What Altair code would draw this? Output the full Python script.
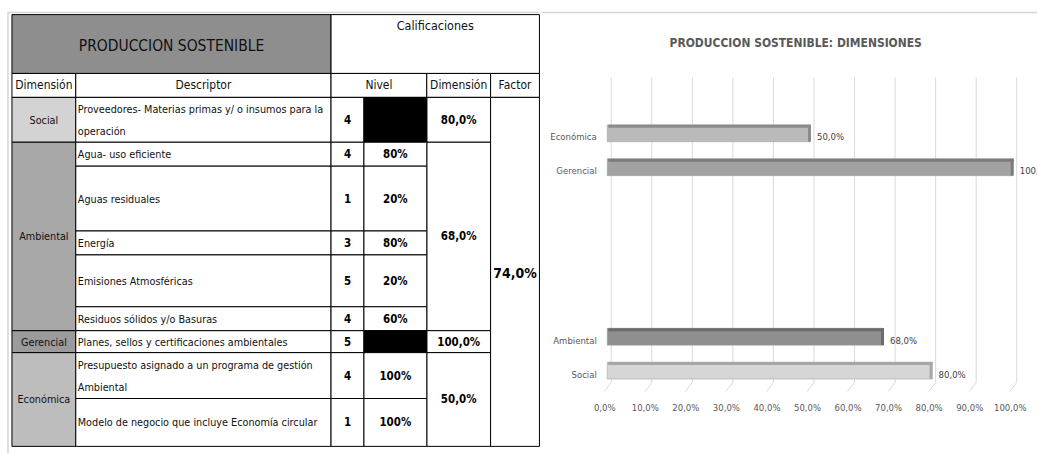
import altair as alt
import pandas as pd

# ---------------- content ----------------
titulo_tabla = "PRODUCCION SOSTENIBLE"
titulo_grafico = "PRODUCCION SOSTENIBLE: DIMENSIONES"
encabezados = ["Dimensión", "Descriptor", "Nivel", "Dimensión", "Factor"]

dimensiones = ["Social", "Ambiental", "Gerencial", "Económica"]
descriptores_por_dim = [1, 5, 1, 2]
descriptores = [
    "Proveedores- Materias primas y/ o insumos para la\noperación",
    "Agua- uso eficiente",
    "Aguas residuales",
    "Energía",
    "Emisiones Atmosféricas",
    "Residuos sólidos y/o Basuras",
    "Planes, sellos y certificaciones ambientales",
    "Presupuesto asignado a un programa de gestión\nAmbiental",
    "Modelo de negocio que incluye Economía circular",
]
nivel = [4, 4, 1, 3, 5, 4, 5, 4, 1]
nivel_pct = [None, 80, 20, 80, 20, 60, None, 100, 100]
calif_dimension = [0.80, 0.68, 1.00, 0.50]
calif_factor = 0.74

# bar order, top to bottom
orden_barras = ["Económica", "Gerencial", "Ambiental", "Social"]
eje_x_ticks = [0.0, 0.1, 0.2, 0.3, 0.4, 0.5, 0.6, 0.7, 0.8, 0.9, 1.0]

# ---------------- styling / layout ----------------
FONT = "DejaVu Sans Condensed, Liberation Sans, sans-serif"
COLS = [12, 76, 332, 365, 428, 492, 541]
HEAD = [14, 73, 97]
ROW_H = [45, 24, 65, 24, 52, 24, 22, 46, 48]
LINE_H = 22
FILL_DIM = {"Social": "#d3d3d3", "Ambiental": "#a8a8a8",
            "Gerencial": "#9b9b9b", "Económica": "#bdbdbd"}
BAR_FILL = {"Económica": "#bababa", "Gerencial": "#a2a2a2",
            "Ambiental": "#8f8f8f", "Social": "#d6d6d6"}
BAR_EDGE = {"Económica": "#8c8c8c", "Gerencial": "#7c7c7c",
            "Ambiental": "#6c6c6c", "Social": "#a6a6a6"}
TABLE_W, TABLE_H = 541, 454
PLOT_W, PLOT_H = 427, 395


def pct_es(v, dec=1):
    return f"{v * 100:.{dec}f}%".replace(".", ",")


# ---------------- table geometry ----------------
row_top = [HEAD[2]]
for h in ROW_H:
    row_top.append(row_top[-1] + h)

span_start, span_end = [], []
acc = 0
for n in descriptores_por_dim:
    span_start.append(acc)
    acc += n
    span_end.append(acc)

cells = []
cells.append(dict(x=COLS[0], x2=COLS[2], y=HEAD[0], y2=HEAD[1], fill="#8e8e8e"))
cells.append(dict(x=COLS[2], x2=COLS[6], y=HEAD[0], y2=HEAD[1], fill="#ffffff"))
head_spans = [(0, 1), (1, 2), (2, 4), (4, 5), (5, 6)]
for a, b in head_spans:
    cells.append(dict(x=COLS[a], x2=COLS[b], y=HEAD[1], y2=HEAD[2], fill="#ffffff"))
for d, s, e in zip(dimensiones, span_start, span_end):
    cells.append(dict(x=COLS[0], x2=COLS[1], y=row_top[s], y2=row_top[e], fill=FILL_DIM[d]))
    cells.append(dict(x=COLS[4], x2=COLS[5], y=row_top[s], y2=row_top[e], fill="#ffffff"))
for i in range(len(descriptores)):
    cells.append(dict(x=COLS[1], x2=COLS[2], y=row_top[i], y2=row_top[i + 1], fill="#ffffff"))
    cells.append(dict(x=COLS[2], x2=COLS[3], y=row_top[i], y2=row_top[i + 1], fill="#ffffff"))
    cells.append(dict(x=COLS[3], x2=COLS[4], y=row_top[i], y2=row_top[i + 1],
                      fill="#000000" if nivel_pct[i] is None else "#ffffff"))
cells.append(dict(x=COLS[5], x2=COLS[6], y=row_top[0], y2=row_top[-1], fill="#ffffff"))
cells_df = pd.DataFrame(cells)


def mid(a, b):
    return (a + b) / 2


txt_reg = []   # centered, regular weight
txt_bold = []  # centered, bold
txt_left = []  # left aligned descriptors

txt_reg.append(dict(x=mid(COLS[0], COLS[2]), y=HEAD[0] + 31, t=titulo_tabla, s=15.5))
txt_reg.append(dict(x=mid(COLS[2], COLS[6]), y=HEAD[0] + 11, t="Calificaciones", s=12.5))
for (a, b), h in zip(head_spans, encabezados):
    txt_reg.append(dict(x=mid(COLS[a], COLS[b]), y=mid(HEAD[1], HEAD[2]), t=h, s=12))
for d, s, e, v in zip(dimensiones, span_start, span_end, calif_dimension):
    txt_reg.append(dict(x=mid(COLS[0], COLS[1]), y=mid(row_top[s], row_top[e]) + 1, t=d, s=10.8))
    txt_bold.append(dict(x=mid(COLS[4], COLS[5]), y=mid(row_top[s], row_top[e]) + 1,
                         t=pct_es(v), s=11.5))
for i, desc in enumerate(descriptores):
    yc = mid(row_top[i], row_top[i + 1]) + 1
    n_lin = desc.count("\n") + 1
    txt_left.append(dict(x=COLS[1] + 2, y=yc - (n_lin - 1) * LINE_H / 2, t=desc, s=10.8))
    txt_bold.append(dict(x=mid(COLS[2], COLS[3]), y=yc, t=str(nivel[i]), s=11.5))
    if nivel_pct[i] is not None:
        txt_bold.append(dict(x=mid(COLS[3], COLS[4]), y=yc, t=f"{nivel_pct[i]}%", s=11.5))
txt_bold.append(dict(x=mid(COLS[5], COLS[6]), y=mid(row_top[0], row_top[-1]) + 2,
                     t=pct_es(calif_factor), s=14))

px = dict(scale=None)
X = lambda f: alt.X(f, **px)
Y = lambda f: alt.Y(f, **px)

frame = alt.Chart(pd.DataFrame({"x": [8], "x2": [TABLE_W], "y": [12], "y2": [TABLE_H]}))
frame_top = frame.mark_rule(color="#d4d4d4", strokeWidth=1.5).encode(
    x=X("x:Q"), x2="x2:Q", y=Y("y:Q"))
frame_left = frame.mark_rule(color="#d4d4d4", strokeWidth=1.5).encode(
    x=X("x:Q"), y=Y("y:Q"), y2="y2:Q")

table_cells = alt.Chart(cells_df).mark_rect(stroke="#000000", strokeWidth=1).encode(
    x=X("x:Q"), x2="x2:Q", y=Y("y:Q"), y2="y2:Q",
    fill=alt.Fill("fill:N", scale=None))

text_enc = dict(x=X("x:Q"), y=Y("y:Q"), text="t:N", size=alt.Size("s:Q", scale=None))
t_reg = alt.Chart(pd.DataFrame(txt_reg)).mark_text(
    font=FONT, color="#111111", baseline="middle", align="center").encode(**text_enc)
t_bold = alt.Chart(pd.DataFrame(txt_bold)).mark_text(
    font=FONT, color="#000000", fontWeight="bold", baseline="middle", align="center").encode(**text_enc)
t_left = alt.Chart(pd.DataFrame(txt_left)).mark_text(
    font=FONT, color="#111111", baseline="middle", align="left",
    lineBreak="\n", lineHeight=LINE_H).encode(**text_enc)

tabla = alt.layer(frame_top, frame_left, table_cells, t_reg, t_bold, t_left).properties(
    width=TABLE_W, height=TABLE_H)

# ---------------- bar chart ----------------
valor = dict(zip(dimensiones, calif_dimension))
bar_df = pd.DataFrame({
    "dim": orden_barras,
    "v": [valor[d] for d in orden_barras],
    "fill": [BAR_FILL[d] for d in orden_barras],
    "edge": [BAR_EDGE[d] for d in orden_barras],
})
huecos = [" ", "  ", "   ", "    "]
y_domain = orden_barras[:2] + huecos + orden_barras[2:]
y_scale = alt.Scale(domain=y_domain, range=[116, 388], paddingInner=0.5, paddingOuter=0.25)
x_scale = alt.Scale(domain=[0, 1.05], nice=False, zero=True)
fmt = "replace(format(datum.value, '.1%'), '.', ',')"
x_axis = alt.Axis(values=eje_x_ticks, labelExpr=fmt, title=None, grid=False, ticks=False,
                  domain=False, labelFont=FONT, labelFontSize=9.5, labelColor="#595959",
                  labelPadding=8, labelOffset=-7, labelFlush=False)
y_axis = alt.Axis(title=None, grid=False, ticks=False, domain=False, labelFont=FONT,
                  labelFontSize=9.5, labelColor="#595959", labelPadding=15, labelOffset=4,
                  minExtent=70, maxExtent=70)

grid_df = pd.DataFrame({"t": eje_x_ticks})
grid_v = alt.Chart(grid_df).mark_rule(color="#d9d9d9", strokeWidth=1).encode(
    x=alt.X("t:Q", scale=x_scale, axis=x_axis), y=alt.value(77), y2=alt.value(383))
grid_s = alt.Chart(grid_df).mark_rule(color="#d9d9d9", strokeWidth=1, x2Offset=-7).encode(
    x=alt.X("t:Q", scale=x_scale, axis=x_axis), x2="t:Q", y=alt.value(383), y2=alt.value(392))

yenc = alt.Y("dim:N", scale=y_scale, axis=y_axis, sort=None)
base = alt.Chart(bar_df)
front = base.mark_bar(xOffset=-4, x2Offset=-4, stroke="#9a9a9a", strokeWidth=0.5).encode(
    x=alt.X("v:Q", scale=x_scale, axis=x_axis), y=yenc,
    fill=alt.Fill("fill:N", scale=None))
top = base.mark_bar(height=3, yOffset=-7, xOffset=-3, x2Offset=-1).encode(
    x=alt.X("v:Q", scale=x_scale, axis=x_axis), y=yenc,
    fill=alt.Fill("edge:N", scale=None))
cap = base.mark_bar(xOffset=-6, x2Offset=-3).encode(
    x=alt.X("v:Q", scale=x_scale, axis=x_axis), x2="v:Q", y=yenc,
    fill=alt.Fill("edge:N", scale=None))
labels = base.transform_calculate(
    lbl="replace(format(datum.v, '.1%'), '.', ',')"
).mark_text(align="left", baseline="middle", dx=3, dy=4, font=FONT, fontSize=9.5,
            color="#404040", clip=True).encode(
    x=alt.X("v:Q", scale=x_scale, axis=x_axis), y=yenc, text="lbl:N")

titulo = alt.Chart(pd.DataFrame({"t": [titulo_grafico]})).mark_text(
    font=FONT, fontSize=12, fontWeight="bold", color="#595959", baseline="middle",
    align="center").encode(text="t:N", x=alt.value(185), y=alt.value(42))
borde = alt.Chart(pd.DataFrame({"t": [0]})).mark_rule(color="#d4d4d4", strokeWidth=1.5).encode(
    x=alt.value(-70), x2=alt.value(PLOT_W), y=alt.value(12))

grafico = alt.layer(borde, grid_v, grid_s, front, top, cap, labels, titulo).properties(
    width=PLOT_W, height=PLOT_H)

chart = alt.hconcat(tabla, grafico, spacing=0).properties(
    padding=0, background="#ffffff"
).configure_view(stroke=None).configure_concat(spacing=0)

chart.save("out.html", embed_options={"renderer": "svg", "actions": False})
